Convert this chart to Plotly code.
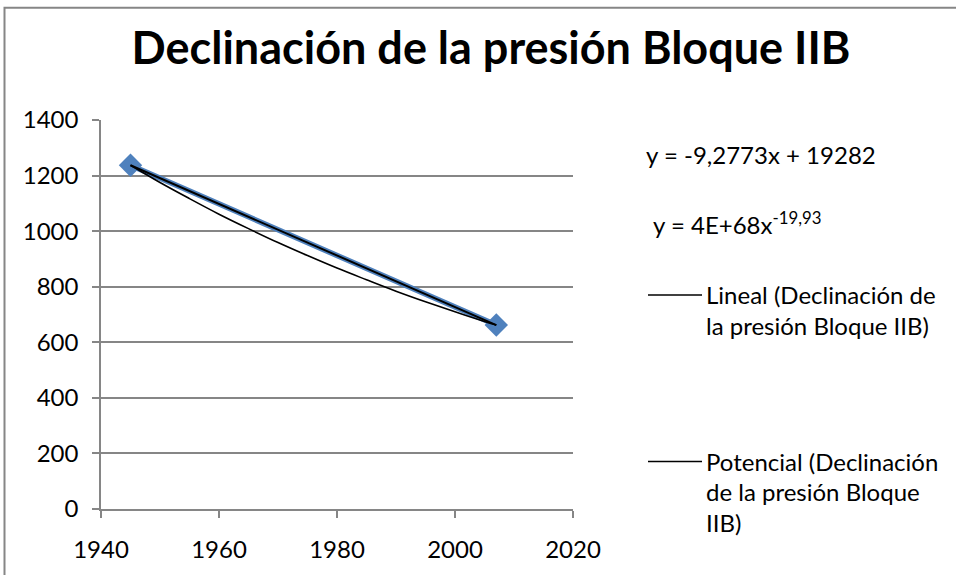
import plotly.graph_objects as go

# Data
years = [1945, 2007]
pressure = [1237, 662]

lin_years = [1945, 2007]
lin_values = [1237, 662]

pow_years = [1945, 1950, 1955, 1960, 1965, 1970, 1975, 1980, 1985, 1990, 1995, 2000, 2005, 2007]
pow_values = [1237, 1175, 1117, 1061, 1009, 959, 912, 867, 825, 784, 746, 710, 675, 662]

x_ticks = [1940, 1960, 1980, 2000, 2020]
y_ticks = [0, 200, 400, 600, 800, 1000, 1200, 1400]

title_text = "Declinación de la presión Bloque IIB"
eq_linear = "y = -9,2773x + 19282"
eq_power = "y = 4E+68x<sup>-19,93</sup>"
lineal_lines = ["Lineal (Declinación de", "la presión Bloque IIB)"]
potencial_lines = ["Potencial (Declinación", "de la presión Bloque", "IIB)"]

W, H = 956, 575
L, R, T, B = 101, 573, 119.5, 514.3
FONT = "Lato"
GRAY = "#868686"
FS = 24


def px(x):
    return (x - L) / (R - L)


def py(y):
    return (B - y) / (B - T)


fig = go.Figure()
fig.add_trace(go.Scatter(
    x=years, y=pressure, mode="lines+markers",
    line=dict(color="#4F81BD", width=5.5),
    marker=dict(symbol="diamond", size=18, color="#4F81BD"),
    showlegend=False, hoverinfo="x+y"))
fig.add_trace(go.Scatter(
    x=lin_years, y=lin_values, mode="lines",
    line=dict(color="black", width=2), showlegend=False))
fig.add_trace(go.Scatter(
    x=pow_years, y=pow_values, mode="lines",
    line=dict(color="black", width=1.6, shape="spline"), showlegend=False))

annotations = []
annotations.append(dict(x=px(644), y=py(155), xref="paper", yref="paper", text=eq_linear,
                        showarrow=False, xanchor="left", yanchor="middle",
                        font=dict(family=FONT, size=FS, color="black")))
annotations.append(dict(x=px(651), y=py(224), xref="paper", yref="paper", text=eq_power,
                        showarrow=False, xanchor="left", yanchor="middle",
                        font=dict(family=FONT, size=FS, color="black")))
for i, t in enumerate(lineal_lines):
    annotations.append(dict(x=px(704), y=py(297 + 31 * i), xref="paper", yref="paper", text=t,
                            showarrow=False, xanchor="left", yanchor="middle",
                            font=dict(family=FONT, size=FS, color="black")))
for i, t in enumerate(potencial_lines):
    annotations.append(dict(x=px(704), y=py(466 + 31 * i), xref="paper", yref="paper", text=t,
                            showarrow=False, xanchor="left", yanchor="middle",
                            font=dict(family=FONT, size=FS, color="black")))

shapes = [
    dict(type="line", xref="paper", yref="paper", x0=px(648), x1=px(702), y0=py(297), y1=py(297),
         line=dict(color="black", width=1.5)),
    dict(type="line", xref="paper", yref="paper", x0=px(648), x1=px(702), y0=py(466), y1=py(466),
         line=dict(color="black", width=1.5)),
    # outer chart border (left and top edges visible)
    dict(type="rect", xref="paper", yref="paper", x0=px(4.5), x1=px(990), y0=py(5.5), y1=py(600),
         line=dict(color=GRAY, width=2), fillcolor="rgba(0,0,0,0)"),
]

fig.update_layout(
    width=W, height=H,
    margin=dict(l=L, r=W - R, t=T, b=H - B, pad=0),
    paper_bgcolor="white", plot_bgcolor="white",
    title=dict(text="<b>" + title_text + "</b>", x=491 / W, y=1 - 48 / H,
               xanchor="center", yanchor="middle",
               font=dict(family=FONT, size=45, color="black")),
    annotations=annotations, shapes=shapes,
    showlegend=False,
    xaxis=dict(range=[1940, 2020], tickvals=x_ticks, ticktext=[str(v) for v in x_ticks],
               showgrid=False, zeroline=False, showline=True, linecolor=GRAY, linewidth=1.5,
               ticks="outside", ticklen=7, tickcolor=GRAY, tickwidth=1.5,
               ticklabelstandoff=11,
               tickfont=dict(family=FONT, size=FS, color="black")),
    yaxis=dict(range=[0, 1400], tickvals=y_ticks, ticktext=[str(v) for v in y_ticks],
               showgrid=True, gridcolor=GRAY, gridwidth=1.5, zeroline=False,
               showline=True, linecolor=GRAY, linewidth=1.5,
               ticks="outside", ticklen=7, tickcolor=GRAY, tickwidth=1.5,
               ticklabelstandoff=9,
               tickfont=dict(family=FONT, size=FS, color="black")),
)

fig.write_html("out.html", config={"displayModeBar": False},
               post_script="document.body.style.margin='0px';document.body.style.overflow='hidden';")
